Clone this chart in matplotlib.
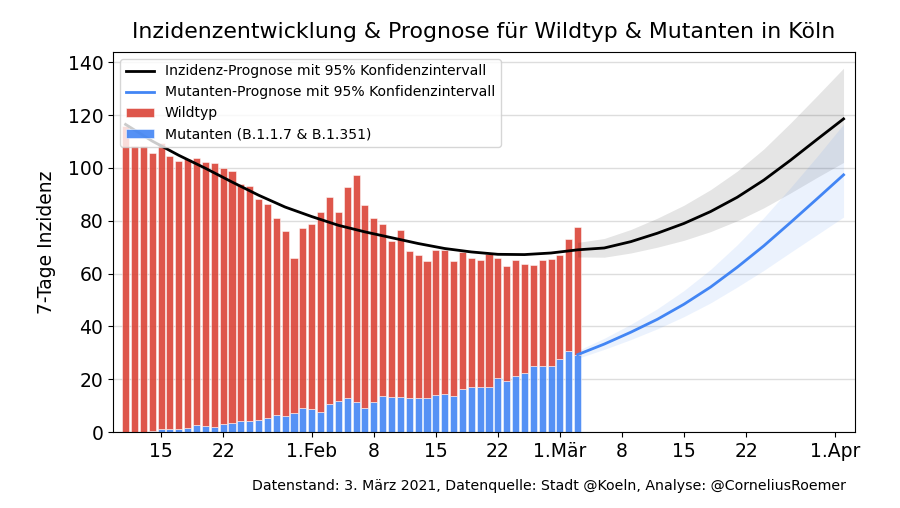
import numpy as np
import pandas as pd
import matplotlib
matplotlib.use('Agg')
import matplotlib.pyplot as plt

# Daily 7-day incidence, Jan 11 - Mar 3 2021
days = pd.date_range('2021-01-11', '2021-03-03', freq='D')
total = [116.0, 108.5, 108.5, 105.8, 109.6, 104.4, 102.7, 103.3, 103.9, 102.2,
         101.8, 99.9, 98.9, 94.0, 93.0, 88.4, 86.2, 81.0, 76.0, 66.0,
         77.4, 78.8, 83.2, 89.0, 83.4, 92.8, 97.2, 85.9, 81.1, 78.8,
         72.3, 76.5, 68.5, 67.1, 64.8, 69.1, 69.0, 64.6, 68.0, 65.8,
         65.3, 67.3, 65.8, 62.9, 65.0, 63.8, 63.2, 65.3, 65.7, 67.0,
         73.1, 77.6]
mutant = [0.0, 0.0, 0.0, 0.4, 1.1, 1.3, 1.3, 1.5, 2.6, 2.3,
          2.0, 2.9, 3.3, 4.0, 4.2, 4.4, 5.3, 6.5, 6.2, 7.3,
          9.1, 8.7, 7.6, 10.6, 11.7, 13.0, 11.5, 9.1, 11.2, 13.6,
          13.4, 13.2, 13.0, 13.0, 13.0, 14.0, 14.5, 13.6, 16.3, 17.0,
          17.0, 17.0, 20.3, 19.3, 21.1, 22.2, 24.9, 24.9, 24.9, 27.5,
          30.6, 29.0]
wild = [t - m for t, m in zip(total, mutant)]

# fitted incidence curve, every 3 days Jan 11 - Apr 2
fit_days = pd.date_range('2021-01-11', '2021-04-02', freq='3D')
fit_total = [116.5, 110.2, 104.8, 99.9, 94.7, 89.7, 85.2, 81.6, 78.3, 75.8,
             73.6, 71.4, 69.5, 68.2, 67.3, 67.2, 67.8, 69.0, 69.7, 72.1,
             75.3, 79.0, 83.5, 88.9, 95.4, 102.9, 110.8, 118.6]

# forecast with confidence intervals, every 3 days Mar 3 - Apr 2
fc_days = pd.date_range('2021-03-03', '2021-04-02', freq='3D')
fc_total_lo = [66.3, 66.2, 67.8, 70.0, 72.6, 75.9, 80.0, 84.9, 90.5, 96.4, 102.1]
fc_total_hi = [71.8, 73.3, 76.7, 81.0, 85.9, 91.8, 98.8, 107.2, 117.0, 127.3, 137.8]
fc_mutant = [29.3, 33.3, 37.8, 42.7, 48.4, 54.9, 62.4, 70.5, 79.3, 88.3, 97.4]
fc_mutant_lo = [27.9, 31.3, 35.0, 39.1, 43.7, 48.9, 54.9, 61.2, 68.0, 74.7, 81.4]
fc_mutant_hi = [30.8, 35.5, 40.8, 46.7, 53.6, 61.6, 70.9, 81.2, 92.5, 104.3, 116.6]

tick_dates = pd.to_datetime(['2021-01-15', '2021-01-22', '2021-02-01', '2021-02-08',
                             '2021-02-15', '2021-02-22', '2021-03-01', '2021-03-08',
                             '2021-03-15', '2021-03-22', '2021-04-01'])
tick_labels = ['15', '22', '1.Feb', '8', '15', '22', '1.Mär', '8', '15', '22', '1.Apr']

red = '#db4437'
blue = '#4285f4'

fig = plt.figure(figsize=(9, 5.08), dpi=100)
ax = fig.add_axes([0.1256, 0.1496, 0.8244, 0.7484])

ax.grid(axis='y', color='#dddddd', linewidth=1, zorder=0)
ax.set_axisbelow(True)

ax.bar(days, mutant, width=0.8, color=blue, alpha=0.9, edgecolor='white',
       linewidth=0.4, label='Mutanten (B.1.1.7 & B.1.351)', zorder=2)
ax.bar(days, wild, bottom=mutant, width=0.8, color=red, alpha=0.9,
       edgecolor='white', linewidth=0.4, label='Wildtyp', zorder=2)

ax.fill_between(fc_days, fc_total_lo, fc_total_hi, color='black', alpha=0.1,
                linewidth=0, zorder=3)
ax.fill_between(fc_days, fc_mutant_lo, fc_mutant_hi, color=blue, alpha=0.1,
                linewidth=0, zorder=3)
ax.plot(fit_days, fit_total, color='black', linewidth=2,
        label='Inzidenz-Prognose mit 95% Konfidenzintervall', zorder=4)
ax.plot(fc_days, fc_mutant, color=blue, linewidth=2,
        label='Mutanten-Prognose mit 95% Konfidenzintervall', zorder=4)

ax.set_xlim(pd.Timestamp('2021-01-09 14:00'), pd.Timestamp('2021-04-03 07:00'))
ax.set_ylim(0, 144)
ax.set_yticks(np.arange(0, 141, 20))
ax.set_xticks(tick_dates)
ax.set_xticklabels(tick_labels)
ax.tick_params(labelsize=13.5)
ax.set_ylabel('7-Tage Inzidenz', fontsize=13.5, labelpad=8)
ax.set_title('Inzidenzentwicklung & Prognose für Wildtyp & Mutanten in Köln',
             fontsize=15.8, pad=10)

handles, labels = ax.get_legend_handles_labels()
order = [0, 1, 3, 2]
ax.legend([handles[i] for i in order], [labels[i] for i in order],
          loc='upper left', fontsize=10.1, framealpha=0.8, edgecolor='#cccccc')

fig.text(0.94, 0.035, 'Datenstand: 3. März 2021, Datenquelle: Stadt @Koeln, Analyse: @CorneliusRoemer',
         ha='right', fontsize=10.2)

fig.savefig('out.png', dpi=100)
